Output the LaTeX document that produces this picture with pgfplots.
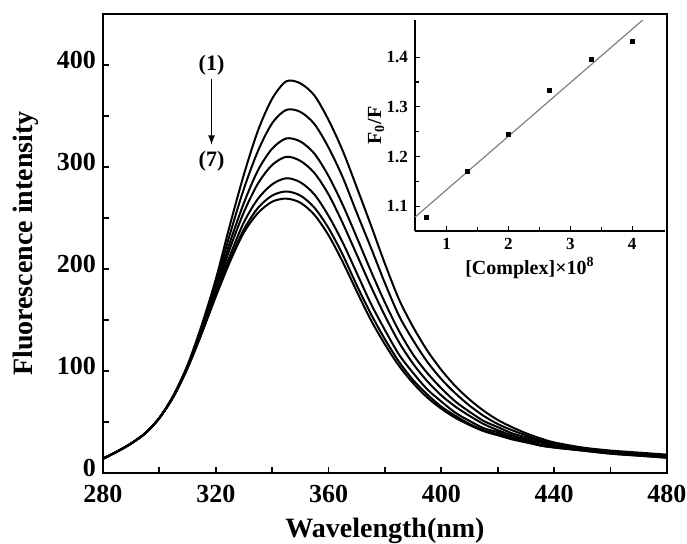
\documentclass[border=0pt]{standalone}
\usepackage{fontspec}
\setmainfont{Liberation Serif}
\usepackage{pgfplots}
\usepackage{pgfplotstable}
\pgfplotsset{compat=1.18}

\pgfplotstableread{
l c1 c2 c3 c4 c5 c6 c7
280 14 14 14 14 14 14 14
285 21 21 21 21 21 21 21
290 29 29 29 29 29 29 29
295 39 39 39 39 39 39 39
300 54 54 54 54 54 54 54
305 76 76 76 75 75 75 75
310 106 105 105 104 104 103 103
315 145 143 141 140 138 137 137
320 190 186 182 179 176 174 173
325 243 234 226 220 213 209 207
330 293 279 265 256 246 239 236
335 336 316 297 284 269 260 255
340 367 343 318 302 283 272 266
345 384 356 328 310 289 276 269
350 382 354 325 306 285 272 265
355 370 342 313 294 273 260 253
360 346 319 291 273 252 240 233
365 316 290 263 245 226 214 207
370 280 255 231 214 196 184 178
375 243 221 198 183 166 156 150
380 205 186 167 154 140 131 126
385 170 154 139 128 116 109 105
390 143 130 116 107 98 91 88
395 120 109 98 90 82 77 74
400 101 92 83 76 70 65 63
405 85 78 70 65 59 56 54
410 72 66 60 56 51 48 47
415 61 56 51 48 44 42 41
420 52 48 45 42 40 38 37
425 45 42 39 37 35 34 33
430 39 37 35 33 32 31 30
435 34 32 31 30 28 27 27
440 30 29 28 27 26 25 25
450 25 24 24 23 23 22 22
460 22 21 21 20 20 19 19
470 20 19 19 18 18 17 17
480 18 17 17 16 16 15 15
}\spectra

\pgfplotstableread{
x y
0.667 1.078
1.333 1.170
2.000 1.245
2.667 1.333
3.333 1.395
4.000 1.432
}\stern

\begin{document}
\begin{tikzpicture}
\useasboundingbox (-51.5pt,-35pt) rectangle (292pt,236.5pt);
\begin{axis}[
  at={(0pt,0pt)}, anchor=south west,
  width=282pt, height=229.5pt, scale only axis,
  xmin=280, xmax=480, ymin=0, ymax=450,
  xtick={280,320,...,480}, ytick={0,100,...,400},
  minor x tick num=1, minor y tick num=1,
  tick pos=left, tick align=inside,
  major tick length=3pt, minor tick length=3pt,
  axis line style={line width=1.2pt},
  every tick/.style={line width=0.9pt, black},
  /pgf/number format/assume math mode=true,
  tick label style={font=\bfseries\fontsize{13}{13}\selectfont},
  xticklabel style={yshift=-2.5pt},
  yticklabel style={yshift=2.5pt},
  xlabel={Wavelength(nm)}, ylabel={Fluorescence intensity},
  label style={font=\bfseries\fontsize{14}{14}\selectfont},
  xlabel style={at={(axis description cs:0.5,-0.126)}, anchor=center},
  ylabel style={at={(axis description cs:-0.1365,0.5)}, anchor=center},
]
\foreach \c in {c1,c2,c3,c4,c5,c6,c7}{
  \addplot[black, line width=1pt, smooth] table[x=l, y=\c] {\spectra};
}
\node[font=\bfseries\fontsize{11}{11}\selectfont] at (axis cs:318.5,400) {(1)};
\draw[-latex, line width=0.6pt] (axis cs:318.5,386) -- (axis cs:318.5,322);
\node[font=\bfseries\fontsize{11}{11}\selectfont] at (axis cs:318.5,306) {(7)};
\end{axis}

\begin{axis}[
  at={(156pt,121pt)}, anchor=south west,
  width=125pt, height=105.5pt, scale only axis,
  xmin=0.49, xmax=4.53, ymin=1.05, ymax=1.475,
  axis x line*=bottom, axis y line*=left,
  axis line style={-, line width=0.8pt},
  xtick={1,2,3,4}, ytick={1.1,1.2,1.3,1.4},
  minor x tick num=1, minor y tick num=1,
  tick align=inside,
  major tick length=2.5pt, minor tick length=2pt,
  every tick/.style={line width=0.6pt, black},
  /pgf/number format/assume math mode=true,
  yticklabel style={/pgf/number format/.cd, fixed, precision=1, fixed zerofill},
  tick label style={font=\bfseries\fontsize{8.5}{8.5}\selectfont},
  xlabel={[Complex]×10\textsuperscript{8}},
  ylabel={F\textsubscript{0}/F},
  label style={font=\bfseries\fontsize{10}{10}\selectfont},
  xlabel style={at={(axis description cs:0.46,-0.175)}, anchor=center},
  ylabel style={at={(axis description cs:-0.156,0.5)}, anchor=center},
]
\addplot[only marks, mark=square*, mark size=1pt, black] table[x=x, y=y] {\stern};
\addplot[gray, line width=0.6pt] coordinates {(0.49,1.078) (4.18,1.476)};
\end{axis}
\end{tikzpicture}
\end{document}
